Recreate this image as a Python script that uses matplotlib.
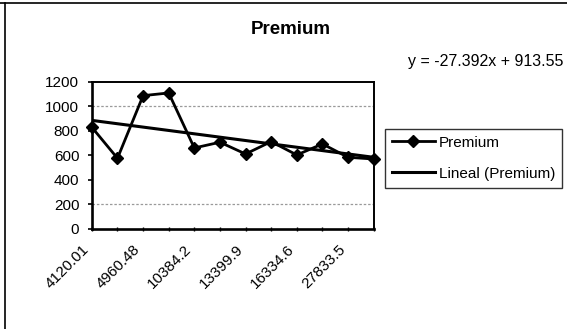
import matplotlib
matplotlib.use("Agg")
import matplotlib.pyplot as plt
from matplotlib.lines import Line2D
import numpy as np

plt.rcParams['font.family'] = ['Liberation Sans', 'DejaVu Sans']

# Premium per category (12 ordered categories)
categories = np.arange(1, 13)
premium = [830, 577, 1088, 1110, 661, 708, 612, 713, 604, 694, 585, 571]

# Labels shown on every second category
tick_labels = ["4120.01", "4960.48", "10384.2", "13399.9", "16334.6", "27833.5"]

# Linear trend coefficients
slope = -27.392
intercept = 913.55

fig = plt.figure(figsize=(5.67, 3.29), dpi=100)
ax = fig.add_axes([0.162, 0.304, 0.497, 0.447])

# light dotted gridlines
for gy in (200, 1000):
    ax.axhline(gy, color='#9a9a9a', lw=0.9, ls=(0, (2, 1.5)), zorder=1)

ax.plot(categories, premium, color='black', lw=2.0, marker='D', ms=6.5,
        mfc='black', mec='black', clip_on=False, zorder=4, label='Premium')
trend = slope * categories + intercept
ax.plot(categories, trend, color='black', lw=2.2, zorder=3,
        label='Lineal (Premium)')

ax.set_xlim(categories[0], categories[-1])
ax.set_ylim(0, 1200)
ax.set_yticks(np.arange(0, 1201, 200))
ax.tick_params(axis='y', labelsize=11, length=3, width=1.2, direction='out', pad=6)
ax.set_xticks(categories)
ax.set_xticklabels([tick_labels[i // 2] if i % 2 == 0 else '' for i in range(len(categories))],
                   rotation=45, ha='right', va='top')
ax.tick_params(axis='x', labelsize=11, length=3, width=1.0, direction='inout', pad=8)

for side in ('left', 'bottom'):
    ax.spines[side].set_linewidth(1.9)
for side in ('top', 'right'):
    ax.spines[side].set_linewidth(1.4)

fig.text(0.513, 0.91, 'Premium', ha='center', va='center', fontsize=13.5,
         fontweight='bold')
fig.text(0.994, 0.812, 'y = -27.392x + 913.55', ha='right', va='center',
         fontsize=11.5)

leg = fig.legend(loc='upper left', bbox_to_anchor=(0.679, 0.608),
                 frameon=True, fancybox=False, fontsize=11,
                 handlelength=2.8, handletextpad=0.3, borderpad=0.45,
                 labelspacing=1.1, borderaxespad=0)
leg.get_frame().set_edgecolor('black')
leg.get_frame().set_linewidth(1.0)

# chart area border
fig.add_artist(Line2D([0.0, 1.0], [0.991, 0.991], transform=fig.transFigure,
                      color='black', lw=1.2))
fig.add_artist(Line2D([0.009, 0.009], [0.0, 0.991], transform=fig.transFigure,
                      color='black', lw=1.2))

fig.savefig('out.png', dpi=100)
